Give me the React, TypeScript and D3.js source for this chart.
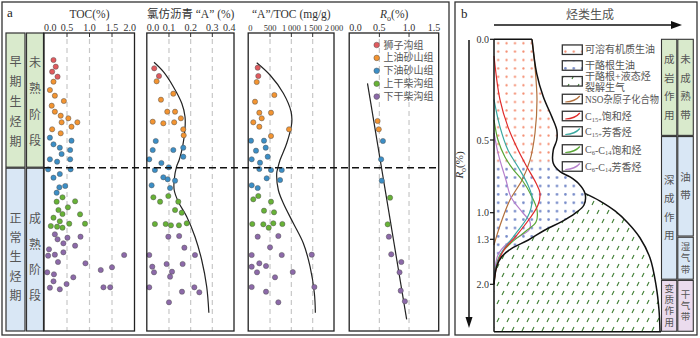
import React from 'react';
import * as d3 from 'd3';

const FONT = '"Liberation Serif", "DejaVu Serif", "Noto Sans CJK SC", serif';

const FORMATIONS = ['狮子沟组', '上油砂山组', '下油砂山组', '上干柴沟组', '下干柴沟组'];
const FORMATION_COLORS = ['#e05a5e', '#f39431', '#3b8ec6', '#67b236', '#8c69a9'];

// [formation index, relative depth (0 = top of column, 298 = base), value]
const TOC_POINTS = [
  [0, 27, 0.2], [0, 33.7, 0.25], [0, 38.7, 0.17], [0, 43.7, 0.29],
  [1, 48.7, 0.2], [1, 57, 0.12], [1, 62.7, 0.23], [1, 68, 0.43], [1, 72.7, 0.16], [1, 78.7, 0.23],
  [1, 82.7, 0.36], [1, 85.3, 0.53], [1, 89.3, 0.73], [1, 89.3, 0.38], [1, 93.7, 0.6], [1, 96.3, 0.17], [1, 100.3, 0.36],
  [2, 104.7, 0.12], [2, 107.7, 0.6], [2, 111.3, 0.2], [2, 114.7, 0.34], [2, 117, 0.57], [2, 121, 0.38],
  [2, 126.3, 0.12], [2, 128.7, 0.28], [2, 126.3, 0.57], [2, 136.3, 0.08], [2, 136.3, 0.58], [2, 141, 0.34],
  [2, 144.7, 0.2], [2, 154.3, 0.33], [2, 153, 0.46], [2, 159.7, 0.27],
  [3, 164.3, 0.4], [3, 168.3, 0.68], [3, 168.7, 0.27], [3, 174.3, 0.52], [3, 177, 0.31], [3, 181, 0.4],
  [3, 181.3, 0.79], [3, 184.7, 0.2], [3, 188.3, 0.34], [3, 190.7, 0.55], [3, 190.7, 0.9], [3, 193, 0.14],
  [3, 193.7, 0.28], [3, 194.7, 0.4],
  [4, 201.3, 0.23], [4, 203.7, 0.8], [4, 206.3, 0.29], [4, 204.7, 0.51], [4, 210.3, 0.42], [4, 212.7, 0.68],
  [4, 216.3, 0.1], [4, 219.3, 0.42], [4, 222.7, 0.08], [4, 221.7, 0.23], [4, 222, 1.77], [4, 229, 0.3],
  [4, 230.3, 0.91], [4, 234.3, 1.5], [4, 237, 1.25], [4, 239.3, 0.06], [4, 241.3, 0.21], [4, 244.3, 0.64],
  [4, 248.3, 0.2], [4, 251, 0.49], [4, 254.7, 0.12], [4, 256.3, 0.34], [4, 254.3, 1.31], [4, 254.3, 1.46],
];

const CHLORO_POINTS = [
  [0, 35.3, 0.032], [0, 43, 0.054],
  [1, 48.3, 0.043], [1, 60.7, 0.12], [1, 66.7, 0.063], [1, 78.7, 0.092], [1, 78.7, 0.128], [1, 85.3, 0.155],
  [1, 88.7, 0.025], [1, 90.3, 0.074], [1, 89.3, 0.124], [1, 96.3, 0.166], [1, 102.3, 0.168],
  [2, 108, 0.039], [2, 114.7, 0.166], [2, 117, 0.025], [2, 117, 0.12], [2, 123.7, 0.166], [2, 126.3, 0.009],
  [2, 130, 0.065], [2, 134.3, 0.099], [2, 137, 0.035], [2, 144.3, 0.074], [2, 146.3, 0.094], [2, 147.7, 0.128],
  [2, 152.3, 0.02], [2, 155, 0.105],
  [3, 164.3, 0.028], [3, 163, 0.097], [3, 168.7, 0.059], [3, 168.7, 0.143], [3, 177, 0.128], [3, 179.7, 0.159],
  [3, 191, 0.035], [3, 191, 0.085], [3, 192.3, 0.109], [3, 192.3, 0.146], [3, 190.3, 0.182],
  [4, 203.7, 0.097], [4, 203, 0.147], [4, 214.7, 0.171], [4, 222, 0.009], [4, 222, 0.22], [4, 231, 0.089],
  [4, 231, 0.163], [4, 233.7, 0.023], [4, 238.7, 0.114], [4, 239.3, 0.031], [4, 243.7, 0.105], [4, 254.3, 0.009],
  [4, 254.3, 0.217], [4, 258.7, 0.16], [4, 259.3, 0.24], [4, 269.3, 0.1],
];

const ATOC_POINTS = [
  [0, 34.7, 211], [0, 43, 225],
  [1, 49, 188], [1, 62, 601], [1, 68.7, 148], [1, 79.7, 249], [1, 79.7, 523], [1, 85.3, 305], [1, 89.3, 108],
  [1, 93.7, 249], [1, 96.3, 946], [1, 103, 523],
  [2, 107.7, 54], [2, 107.7, 359], [2, 117.7, 171], [2, 114.7, 399], [2, 123.7, 446], [2, 126.3, 70],
  [2, 129.7, 265], [2, 136, 249], [2, 137, 523], [2, 137, 775], [2, 145.3, 422], [2, 147, 735], [2, 152.3, 70], [2, 155, 211],
  [3, 166.3, 108], [3, 163, 225], [3, 168.7, 523], [3, 177.7, 359], [3, 179.3, 594], [3, 191, 84], [3, 191.3, 343],
  [3, 194.7, 469], [3, 190.3, 577], [3, 191, 789],
  [4, 203.7, 211], [4, 203, 695], [4, 214.3, 500], [4, 222, 70], [4, 222, 775], [4, 221.7, 1479], [4, 230.3, 249],
  [4, 233.7, 70], [4, 233, 406], [4, 239.3, 195], [4, 239, 1033], [4, 244.3, 617], [4, 254, 70], [4, 254, 1540],
  [4, 258.7, 406], [4, 269.3, 695],
];

const RO_POINTS = [
  [1, 88, 0.47], [1, 96.3, 0.49],
  [2, 108, 0.56], [2, 126.3, 0.53], [2, 147.7, 0.54],
  [3, 164.7, 0.68], [3, 191.3, 0.64],
  [4, 203.7, 0.66], [4, 221.3, 0.7], [4, 229, 0.87], [4, 239.3, 0.84], [4, 257.7, 0.86], [4, 268.3, 0.93],
];

// [relative depth, value]
const CHLORO_TREND = [
  [29.3, 0.031], [38.7, 0.074], [53.7, 0.12], [70.3, 0.159], [83.7, 0.174], [95.3, 0.174], [113.7, 0.163],
  [127, 0.147], [133.7, 0.135], [147, 0.124], [157, 0.124], [168.7, 0.143], [183.7, 0.182], [203.7, 0.22],
  [227, 0.251], [253.7, 0.274], [279.7, 0.284],
];
const ATOC_TREND = [
  [29.7, 188], [42, 500], [60.3, 812], [78.7, 993], [90.3, 1009], [110.3, 892], [127, 735], [135.3, 681],
  [140.3, 657], [157, 695], [170.3, 812], [190.3, 1047], [210.3, 1281], [233.7, 1439], [260.3, 1540], [279.7, 1563],
];
const RO_TREND = [[50.3, 0.3], [286.3, 0.96]];

const DEPTH_MAX = 298;
const STAGE_BREAK = 134.7;
const STAGE_LABELS_1 = ['早期生烃期', '正常生烃期'];
const STAGE_LABELS_2 = ['未熟阶段', '成熟阶段'];

const TOC_TICKS = [0, 0.5, 1, 1.5, 2];
const CHLORO_TICKS = [0, 0.1, 0.2, 0.3, 0.4];
const ATOC_TICKS = [0, 500, 1000, 1500, 2000];
const RO_TICKS = [0, 0.5, 1, 1.5];

// panel b: [relative generation 0-100, Ro (%)]
const RO_B_TICKS = [0, 0.5, 1.0, 1.3, 2.0];
const RO_B_BOTTOM = 2.74;
const OIL_OUTLINE = [
  [22.9, 0], [25.7, 0.169], [29.7, 0.285], [34.8, 0.384], [37.8, 0.45], [37.8, 0.5], [35.7, 0.569],
  [35.7, 0.66], [39.8, 0.718], [45.8, 0.754], [50.8, 0.798], [54.8, 0.867], [54.2, 0.947], [48.8, 1.007],
  [40.8, 1.1], [30.7, 1.195], [20.7, 1.311], [10.7, 1.44], [4.6, 1.571], [1.6, 1.726], [0, 2.0],
];
const GAS_OUTER = [
  [54.8, 0.867], [63.9, 0.92], [72.9, 0.988], [80.7, 1.116], [88, 1.285], [94, 1.591], [97.6, 2.011],
  [99.4, 2.4], [100, 2.74],
];
const NSO_CURVE = [
  [22.9, 0], [24.7, 0.138], [25.9, 0.3], [24.7, 0.465], [21.7, 0.638], [16.9, 0.775], [9.6, 0.913],
  [4.8, 1.082], [1.8, 1.25], [0, 1.389],
];
const C15_SAT = [
  [0, 0.083], [3.6, 0.3], [8.4, 0.435], [14.5, 0.569], [19.9, 0.686], [25.3, 0.796], [27.7, 0.865],
  [26.5, 0.947], [21.7, 1.06], [13.3, 1.263], [6.0, 1.466], [1.8, 1.7], [0, 2.0],
];
const C15_ARO = [
  [0, 0.3], [3.6, 0.435], [8.4, 0.569], [14.5, 0.686], [19.9, 0.796], [22.9, 0.892], [22.3, 0.968],
  [19.9, 1.06], [12.0, 1.263], [4.8, 1.498], [1.2, 1.731], [0, 2.0],
];
const C6_SAT = [
  [0, 0.4], [2.4, 0.5], [6.6, 0.617], [11.4, 0.7], [16.9, 0.775], [22.3, 0.878], [25.9, 0.981],
  [25.3, 1.105], [19.3, 1.206], [9.6, 1.373], [3.0, 1.575], [0, 2.0],
];
const C6_ARO = [
  [0, 0.465], [2.4, 0.589], [4.8, 0.686], [7.2, 0.775], [10.2, 0.892], [16.9, 0.995], [21.7, 1.105],
  [21.1, 1.195], [15.7, 1.263], [8.4, 1.358], [2.4, 1.544], [0, 2.0],
];
const PINK_BLUE_SPLIT = 0.65;
const ZONE_BREAKS_1 = [0, 0.48, 1.93, RO_B_BOTTOM];
const ZONE_LABELS_1 = ['成岩作用', '深成作用', '变质作用'];
const ZONE_BREAKS_2 = [0, 0.48, 1.27, 1.93, RO_B_BOTTOM];
const ZONE_LABELS_2 = ['未成熟带', '油带', '湿气带', '干气带'];

const GREEN = '#d9eacc';
const BLUE = '#d9e7f5';
const PINK = '#ebdcee';
const TEXT = '#555';

function atocFmt(v: number) {
  if (v < 1000) return String(v);
  return `${Math.floor(v / 1000)}\u2009${String(v % 1000).padStart(3, '0')}`;
}

function VText({ x, cy, text, step, size }: { x: number; cy: number; text: string; step: number; size: number }) {
  const chars = Array.from(text);
  const y0 = cy - ((chars.length - 1) * step) / 2;
  return (
    <g>
      {chars.map((c, i) => (
        <text key={i} x={x} y={y0 + i * step} textAnchor="middle" dominantBaseline="central"
          fontSize={size} fill={TEXT}>{c}</text>
      ))}
    </g>
  );
}

function PanelA() {
  const y = d3.scaleLinear().domain([0, DEPTH_MAX]).range([33, 331]);
  const yBreak = y(STAGE_BREAK);
  const tracks = [
    { key: 'toc', title: <tspan>TOC(%)</tspan>, x: d3.scaleLinear().domain([0, 2]).range([44.5, 134.5]),
      ticks: TOC_TICKS, fmt: d3.format('.1f'), points: TOC_POINTS, trend: null, lastEnd: true, fs: 10 },
    { key: 'chl', title: <tspan>氯仿沥青 “A” (%)</tspan>, x: d3.scaleLinear().domain([0, 0.4]).range([147.3, 234]),
      ticks: CHLORO_TICKS, fmt: d3.format('.1f'), points: CHLORO_POINTS, trend: CHLORO_TREND, lastEnd: true, fs: 10 },
    { key: 'atoc', title: <tspan>“A”/TOC (mg/g)</tspan>, x: d3.scaleLinear().domain([0, 2000]).range([248.7, 334]),
      ticks: ATOC_TICKS, fmt: atocFmt, points: ATOC_POINTS, trend: ATOC_TREND, lastEnd: false, fs: 8.5 },
    { key: 'ro', title: <><tspan fontStyle="italic">R</tspan><tspan dy={2.5} fontSize={8}>o</tspan><tspan dy={-2.5}>(%)</tspan></>,
      x: d3.scaleLinear().domain([0, 1.5]).range([349.7, 438.7]),
      ticks: RO_TICKS, fmt: d3.format('.1f'), points: RO_POINTS, trend: RO_TREND, lastEnd: true, fs: 10 },
  ];

  const cols = [
    { x0: 6, x1: 25, labels: STAGE_LABELS_1, step: [20, 19.3] },
    { x0: 26.5, x1: 43.5, labels: STAGE_LABELS_2, step: [26, 25.7] },
  ];

  return (
    <g>
      <rect x={2} y={2} width={447} height={333} fill="none" stroke="#333" strokeWidth={1.3} />
      <text x={7} y={17} fontSize={13} fill="#222">a</text>

      {cols.map((c, ci) => (
        <g key={ci}>
          <rect x={c.x0} y={33} width={c.x1 - c.x0} height={yBreak - 33 - 0.5} fill={GREEN} stroke="#333" strokeWidth={1.2} />
          <rect x={c.x0} y={yBreak + 0.5} width={c.x1 - c.x0} height={331 - yBreak - 0.5} fill={BLUE} stroke="#333" strokeWidth={1.2} />
          <VText x={(c.x0 + c.x1) / 2} cy={(33 + yBreak) / 2 + 2} text={c.labels[0]} step={c.step[0]} size={12} />
          <VText x={(c.x0 + c.x1) / 2} cy={(yBreak + 331) / 2 + 8} text={c.labels[1]} step={c.step[1]} size={12} />
        </g>
      ))}

      {tracks.map((t) => {
        const [x0, x1] = t.x.range();
        const line = d3.line<number[]>().x((d) => t.x(d[1])).y((d) => y(d[0])).curve(d3.curveCatmullRom.alpha(0.5));
        return (
          <g key={t.key}>
            <text x={(x0 + x1) / 2} y={18} textAnchor="middle" fontSize={11.5} fill="#333">{t.title}</text>
            {t.ticks.map((v, i) => {
              const x = t.x(v);
              const first = i === 0;
              const last = i === t.ticks.length - 1;
              const anchor = first ? 'start' : last && t.lastEnd ? 'end' : 'middle';
              const tx = first ? x0 - 0.5 : last && t.lastEnd ? x + 1.5 : x;
              return (
                <g key={i}>
                  <text x={tx} y={31} textAnchor={anchor} fontSize={t.fs} fill="#333">{t.fmt(v)}</text>
                  {!first && !last && (
                    <>
                      <line x1={x} x2={x} y1={33} y2={37} stroke="#333" strokeWidth={1} />
                      <line x1={x} x2={x} y1={39} y2={331} stroke="#c8c8c8" strokeWidth={1.2} strokeDasharray="5 4" />
                    </>
                  )}
                </g>
              );
            })}
            {t.trend && <path d={line(t.trend) || ''} fill="none" stroke="#222" strokeWidth={1.2} />}
            {t.points.map((p, i) => (
              <circle key={i} cx={t.x(p[2])} cy={y(p[1])} r={2.6} fill={FORMATION_COLORS[p[0]]}
                stroke="#555" strokeWidth={0.5} />
            ))}
            <rect x={x0 - 0.5} y={33} width={x1 - x0 + 0.5} height={298} fill="none" stroke="#222" strokeWidth={1.3} />
          </g>
        );
      })}

      <line x1={44} x2={440} y1={yBreak} y2={yBreak} stroke="#111" strokeWidth={1.5} strokeDasharray="7 4" />

      {FORMATIONS.map((f, i) => (
        <g key={f}>
          <circle cx={376.7} cy={45 + i * 12.9} r={2.8} fill={FORMATION_COLORS[i]} stroke="#555" strokeWidth={0.5} />
          <text x={383.5} y={45 + i * 12.9} dominantBaseline="central" fontSize={10} fill={TEXT}>{f}</text>
        </g>
      ))}
    </g>
  );
}

function PanelB() {
  const xB = d3.scaleLinear().domain([0, 100]).range([494, 660]);
  const yB = d3.scaleLinear().domain([0, 0.5, 1.0, 1.3, 2.0]).range([39.3, 140, 212.7, 239.3, 284.3]);
  const lineB = d3.line<number[]>().x((d) => xB(d[0])).y((d) => yB(d[1])).curve(d3.curveCatmullRom.alpha(0.5));

  const outlineD = lineB(OIL_OUTLINE) || '';
  const oilD = `${outlineD}L${xB(0)},${yB(0)}Z`;
  const tail = OIL_OUTLINE.slice(11);
  const gasD = `${lineB(tail)}L${xB(0)},${yB(RO_B_BOTTOM)}L${xB(100)},${yB(RO_B_BOTTOM)}${(lineB([...GAS_OUTER].reverse()) || '').replace(/^M/, 'L')}Z`;

  const yTop = yB(0);
  const yBot = yB(RO_B_BOTTOM);
  const ySplit = yB(PINK_BLUE_SPLIT);

  const components = [
    { data: NSO_CURVE, color: '#b2703d' },
    { data: C6_ARO, color: '#b57fcc' },
    { data: C6_SAT, color: '#5aa636' },
    { data: C15_ARO, color: '#3aa8a0' },
    { data: C15_SAT, color: '#e02a2a' },
  ];

  const legendY = [49.7, 65.5, 81.3, 99, 116, 131.5, 149.5, 166.5];
  const sub = (s: string) => <tspan dy={2.5} fontSize={6.5}>{s}</tspan>;
  const legend = [
    { kind: 'pink', label: <>可溶有机质生油</> },
    { kind: 'blue', label: <>干酪根生油</> },
    { kind: 'gas', label: null },
    { kind: 'line', color: '#b2703d', label: <>NSO杂原子化合物</> },
    { kind: 'line', color: '#e02a2a', label: <>C{sub('15+')}<tspan dy={-2.5}>饱和烃</tspan></> },
    { kind: 'line', color: '#3aa8a0', label: <>C{sub('15+')}<tspan dy={-2.5}>芳香烃</tspan></> },
    { kind: 'line', color: '#5aa636', label: <>C{sub('6')}<tspan dy={-2.5}>-C</tspan>{sub('14')}<tspan dy={-2.5}>饱和烃</tspan></> },
    { kind: 'line', color: '#b57fcc', label: <>C{sub('6')}<tspan dy={-2.5}>-C</tspan>{sub('14')}<tspan dy={-2.5}>芳香烃</tspan></> },
  ];

  const zoneCols = [
    { x0: 661.5, x1: 676.8, breaks: ZONE_BREAKS_1, labels: ZONE_LABELS_1, fills: [GREEN, BLUE, PINK] },
    { x0: 677.8, x1: 693.3, breaks: ZONE_BREAKS_2, labels: ZONE_LABELS_2, fills: [GREEN, BLUE, BLUE, PINK] },
  ];

  return (
    <g>
      <defs>
        <pattern id="pinkDots" width={8.4} height={8.4} patternUnits="userSpaceOnUse" x={494} y={39}>
          <circle cx={4.2} cy={4.2} r={1.1} fill="#f3896c" />
        </pattern>
        <pattern id="blueDots" width={8.4} height={8.4} patternUnits="userSpaceOnUse" x={494} y={39}>
          <circle cx={4.2} cy={4.2} r={1.3} fill="#7489c8" />
        </pattern>
        <pattern id="gasDash" width={10} height={18} patternUnits="userSpaceOnUse">
          <line x1={2} y1={7} x2={4} y2={3} stroke="#3c7c30" strokeWidth={1.1} />
          <line x1={7} y1={16} x2={9} y2={12} stroke="#3c7c30" strokeWidth={1.1} />
        </pattern>
        <clipPath id="oilClip"><path d={oilD} /></clipPath>
      </defs>

      <rect x={455} y={2} width={242} height={333} fill="none" stroke="#333" strokeWidth={1.3} />
      <text x={461} y={18} fontSize={13} fill="#222">b</text>

      <text x={590} y={19} textAnchor="middle" fontSize={12} fill={TEXT}>烃类生成</text>
      <line x1={494} x2={673} y1={25} y2={25} stroke="#111" strokeWidth={1.5} />
      <path d="M671,21 L682,25 L671,29 Z" fill="#111" />

      <line x1={469} x2={469} y1={40} y2={320} stroke="#111" strokeWidth={1.5} />
      <path d="M465.5,317 L469,328 L472.5,317 Z" fill="#111" />
      <text transform="translate(463,165) rotate(-90)" textAnchor="middle" fontSize={11} fill="#333">
        <tspan fontStyle="italic">R</tspan><tspan dy={2.5} fontSize={8}>o</tspan><tspan dy={-2.5}>(%)</tspan>
      </text>

      <path d={gasD} fill="url(#gasDash)" />
      <g clipPath="url(#oilClip)">
        <rect x={494} y={yTop} width={100} height={ySplit - yTop} fill="url(#pinkDots)" />
        <rect x={494} y={ySplit} width={100} height={yB(2.0) - ySplit + 2} fill="url(#blueDots)" />
      </g>

      {components.map((c, i) => (
        <path key={i} d={lineB(c.data) || ''} fill="none" stroke={c.color} strokeWidth={1.2} />
      ))}

      <path d={outlineD} fill="none" stroke="#111" strokeWidth={1.5} />
      <path d={lineB(GAS_OUTER) || ''} fill="none" stroke="#111" strokeWidth={1.5} />
      <line x1={xB(0)} x2={xB(OIL_OUTLINE[0][0])} y1={yTop} y2={yTop} stroke="#111" strokeWidth={1.5} />
      <line x1={494} x2={494} y1={yTop} y2={yBot} stroke="#111" strokeWidth={1.5} />
      <line x1={494} x2={661} y1={yBot} y2={yBot} stroke="#111" strokeWidth={1.5} />

      {RO_B_TICKS.map((v) => (
        <g key={v}>
          <line x1={490} x2={494} y1={yB(v)} y2={yB(v)} stroke="#111" strokeWidth={1.2} />
          <text x={489} y={yB(v)} textAnchor="end" dominantBaseline="central" fontSize={10} fill="#333">{d3.format('.1f')(v)}</text>
        </g>
      ))}

      {legend.map((l, i) => {
        const cy = legendY[i];
        const bx = 562.3, bw = 20, bh = 9.5;
        const fill = l.kind === 'pink' ? 'url(#pinkDots)' : l.kind === 'blue' ? 'url(#blueDots)' : l.kind === 'gas' ? 'url(#gasDash)' : '#fff';
        return (
          <g key={i}>
            <rect x={bx} y={cy - bh / 2} width={bw} height={bh} fill="#fff" />
            <rect x={bx} y={cy - bh / 2} width={bw} height={bh} fill={fill} stroke="#333" strokeWidth={1.3} />
            {l.kind === 'line' && (
              <path d={`M${bx + 3},${cy + 3} Q${bx + 13},${cy + 2.5} ${bx + 17.5},${cy - 3}`} fill="none" stroke={l.color} strokeWidth={1.2} />
            )}
            {l.kind === 'gas' ? (
              <>
                <text x={585} y={cy - 4.5} dominantBaseline="central" fontSize={10} fill={TEXT}>干酪根+液态烃</text>
                <text x={585} y={cy + 6} dominantBaseline="central" fontSize={10} fill={TEXT}>裂解生气</text>
              </>
            ) : (
              <text x={585} y={cy} dominantBaseline="central" fontSize={10} fill={TEXT}
                textLength={l.kind === 'line' && i === 3 ? 74 : undefined} lengthAdjust="spacingAndGlyphs">{l.label}</text>
            )}
          </g>
        );
      })}

      {zoneCols.map((c, ci) => (
        <g key={ci}>
          {c.labels.map((lab, i) => {
            const y0 = yB(c.breaks[i]) + (i === 0 ? 0 : 0.6);
            const y1 = yB(c.breaks[i + 1]) - 0.6;
            const h = y1 - y0;
            const step = h > 80 ? 18.5 : 11.3;
            return (
              <g key={i}>
                <rect x={c.x0} y={y0} width={c.x1 - c.x0} height={h} fill={c.fills[i]} stroke="#333" strokeWidth={1.1} />
                <VText x={(c.x0 + c.x1) / 2} cy={(y0 + y1) / 2} text={lab} step={step} size={h > 80 ? 10.5 : 9.5} />
              </g>
            );
          })}
        </g>
      ))}
    </g>
  );
}

export default function App() {
  return (
    <svg width={700} height={338} viewBox="0 0 700 338" fontFamily={FONT}
      style={{ position: 'absolute', left: 0, top: 0, display: 'block' }}>
      <rect width={700} height={338} fill="#fff" />
      <PanelA />
      <PanelB />
    </svg>
  );
}
